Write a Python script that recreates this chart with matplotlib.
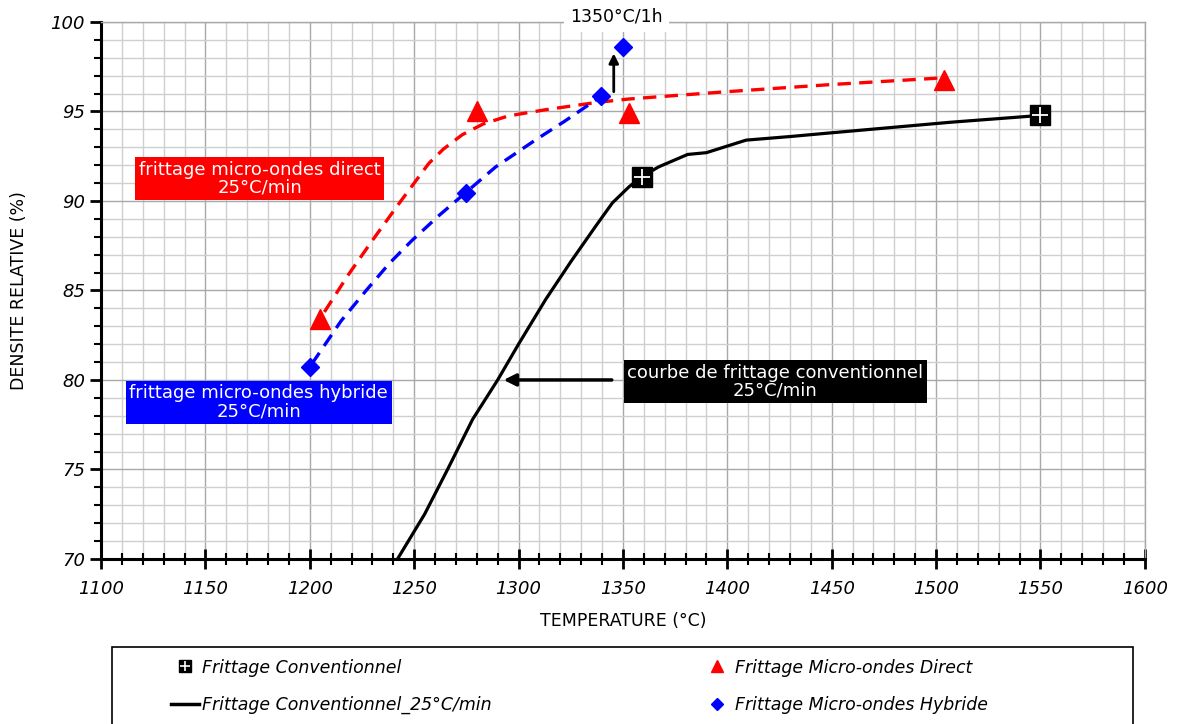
import matplotlib.pyplot as plt
from matplotlib.patches import Rectangle
from matplotlib.lines import Line2D
from matplotlib.legend_handler import HandlerTuple
import numpy as np

# --- data ---
conv_pts_T = [1359, 1550]
conv_pts_D = [91.35, 94.78]

conv_curve_T = [1241, 1255, 1266, 1278, 1290, 1300, 1313, 1325, 1337, 1345, 1353,
                1359, 1367, 1381, 1390, 1409, 1430, 1449, 1478, 1507, 1550]
conv_curve_D = [69.8, 72.5, 75.0, 77.8, 80.0, 82.0, 84.5, 86.6, 88.6, 89.9, 90.8,
                91.35, 91.9, 92.6, 92.7, 93.4, 93.6, 93.8, 94.1, 94.4, 94.78]

direct_T = [1205, 1280, 1353, 1504]
direct_D = [83.4, 95.0, 94.9, 96.75]
direct_fit_T = [1207, 1218, 1230, 1243, 1250, 1257, 1264, 1273, 1283, 1295, 1313,
                1337, 1353, 1399, 1449, 1499, 1503]
direct_fit_D = [83.8, 85.8, 87.8, 89.9, 91.0, 92.1, 92.9, 93.7, 94.3, 94.75, 95.1,
                95.5, 95.7, 96.1, 96.5, 96.85, 96.9]

hybrid_T = [1200, 1275, 1339.5, 1350]
hybrid_D = [80.7, 90.45, 95.85, 98.6]
hybrid_fit_T = [1201, 1215, 1227, 1238, 1249, 1262, 1275, 1289, 1308, 1322, 1339]
hybrid_fit_D = [80.9, 83.3, 85.0, 86.5, 87.8, 89.2, 90.5, 91.9, 93.4, 94.45, 95.8]

plt.rcParams['font.family'] = ['DejaVu Sans']

fig = plt.figure(figsize=(11.79, 7.24), dpi=100)
ax = fig.add_axes([0.0857, 0.228, 0.8853, 0.7416])

ax.set_xlim(1100, 1600)
ax.set_ylim(70, 100)
ax.set_xticks(np.arange(1100, 1601, 50))
ax.set_xticks(np.arange(1100, 1601, 10), minor=True)
ax.set_yticks(np.arange(70, 101, 5))
ax.set_yticks(np.arange(70, 101, 1), minor=True)
ax.grid(True, which='minor', color='#cfcfcf', lw=1.0)
ax.grid(True, which='major', color='#a8a8a8', lw=1.0)
ax.set_axisbelow(True)

for s in ['top', 'right']:
    ax.spines[s].set_color('#a8a8a8')
    ax.spines[s].set_linewidth(1.0)
for s in ['left', 'bottom']:
    ax.spines[s].set_linewidth(2.2)
ax.tick_params(axis='y', which='major', direction='out', length=8, width=2)
ax.tick_params(axis='y', which='minor', direction='out', length=5, width=1.5)
ax.tick_params(axis='x', which='major', direction='inout', length=14, width=2)
ax.tick_params(axis='x', which='minor', direction='inout', length=9, width=1.5)
ax.tick_params(axis='x', pad=8)
for lab in ax.get_xticklabels() + ax.get_yticklabels():
    lab.set_fontstyle('italic')
    lab.set_fontsize(13)

ax.set_xlabel('TEMPERATURE (°C)', fontsize=12.5, labelpad=10)
ax.set_ylabel('DENSITE RELATIVE (%)', fontsize=12.5, labelpad=16)

# curves
ax.plot(direct_fit_T, direct_fit_D, color='red', lw=2.4, ls=(0, (4, 2.5)))
ax.plot(hybrid_fit_T, hybrid_fit_D, color='blue', lw=2.4, ls=(0, (4, 2.5)))
ax.plot(conv_curve_T, conv_curve_D, color='black', lw=2.3)

ax.plot(direct_T, direct_D, ls='none', marker='^', ms=14, color='red', zorder=5)
ax.plot(hybrid_T, hybrid_D, ls='none', marker='D', ms=9.5, color='blue', zorder=5)
ax.plot(conv_pts_T, conv_pts_D, ls='none', marker='s', ms=14, color='black', zorder=5)
ax.plot(conv_pts_T, conv_pts_D, ls='none', marker='+', ms=11, mew=1.3, color='white', zorder=6)

# annotations
box_kw = dict(color='white', ha='center', va='center', fontsize=13, linespacing=1.0)
ax.text(1176, 91.25, 'frittage micro-ondes direct\n25°C/min',
        bbox=dict(boxstyle='square,pad=0.2', fc='red', ec='none'), **box_kw)
ax.text(1175.5, 78.75, 'frittage micro-ondes hybride\n25°C/min',
        bbox=dict(boxstyle='square,pad=0.2', fc='blue', ec='none'), **box_kw)
ax.text(1423, 79.9, 'courbe de frittage conventionnel\n25°C/min',
        bbox=dict(boxstyle='square,pad=0.2', fc='black', ec='none'), **box_kw)
ax.annotate('', xy=(1291.5, 80.0), xytext=(1346, 80.0),
            arrowprops=dict(arrowstyle='-|>', color='black', lw=2.5, mutation_scale=18))
ax.annotate('', xy=(1345.6, 98.4), xytext=(1345.6, 95.95),
            arrowprops=dict(arrowstyle='-|>', color='black', lw=2.0, mutation_scale=14))
ax.text(1347, 100.3, '1350°C/1h', ha='center', va='center', fontsize=12.5,
        clip_on=False, bbox=dict(boxstyle='square,pad=0.35', fc='white', ec='none'))

# legend
fig.patches.append(Rectangle((0.095, -0.05), 0.866, 0.1564, transform=fig.transFigure,
                             fill=False, ec='black', lw=1.2))
h_conv = (Line2D([], [], ls='none', marker='s', ms=9, color='black'),
          Line2D([], [], ls='none', marker='+', ms=7, mew=1.2, color='white'))
h_line = Line2D([], [], color='black', lw=2.5)
h_dir = Line2D([], [], ls='none', marker='^', ms=9, color='red')
h_hyb = Line2D([], [], ls='none', marker='D', ms=6.5, color='blue')
leg = fig.legend([h_conv, h_line, h_dir, h_hyb],
                 ['Frittage Conventionnel', 'Frittage Conventionnel_25°C/min',
                  'Frittage Micro-ondes Direct', 'Frittage Micro-ondes Hybride'],
                 handler_map={tuple: HandlerTuple(ndivide=1, pad=0)},
                 loc='upper left', bbox_to_anchor=(0.139, 0.100), ncol=2,
                 frameon=False, prop={'style': 'italic', 'size': 12.5},
                 handlelength=1.6, handletextpad=0.2, columnspacing=12.2,
                 labelspacing=1.13, borderaxespad=0)

fig.savefig('out.png', dpi=100)
